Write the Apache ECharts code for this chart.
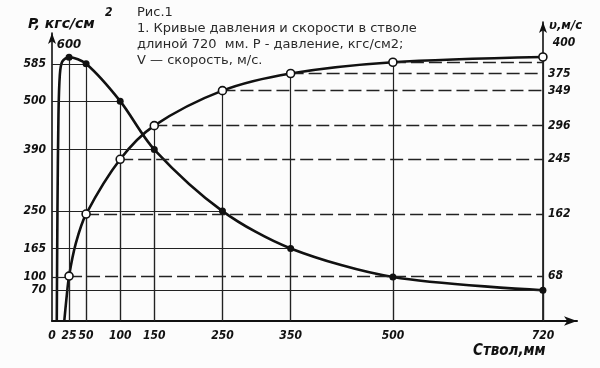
<!DOCTYPE html>
<html><head><meta charset="utf-8">
<script src="https://cdn.jsdelivr.net/npm/echarts@6/dist/echarts.min.js"></script>
<style>html,body{margin:0;padding:0;background:#fcfcfc}#c{width:600px;height:368px}</style>
</head><body><div id="c"></div>
<script>
// ---- data ----
const xTicks   = [25, 50, 100, 150, 250, 350, 500, 720];          // mm along barrel
const xLabels  = [0, 25, 50, 100, 150, 250, 350, 500, 720];
const pressure = [600, 585, 500, 390, 250, 165, 100, 70];        // kgf/cm2 at xTicks
const velocity = [68, 162, 245, 296, 349, 375, 392, 400];        // m/s at xTicks
const pressureLead = [[7, 0], [8, 250], [9.5, 470], [11.5, 560], [15, 590]]; // rise before 25 mm
const velocityLead = [[18, 0], [21, 32]];                         // start of motion
const velocityMid  = [[35, 118]];                                 // between 25 and 50 mm
const pTickLabels = [70, 100, 165, 250, 390, 500, 585];
const vTickLabels = [68, 162, 245, 296, 349, 375, 392];
// solid pressure guides: [value, x where the guide ends]
const pGuides = [[585, 50], [500, 100], [390, 150], [250, 250], [165, 350], [100, 25], [70, 720]];
const xEnd = 720;

const FONT = '"DejaVu Sans Condensed", "DejaVu Sans", sans-serif';
const INK = '#111';
const labelStyle = {fontFamily: FONT, fontStyle: 'italic', fontWeight: 'bold', fontSize: 12, color: INK};

function pair(xs, ys) { return xs.map((x, i) => [x, ys[i]]); }
const pCurve = pressureLead.concat(pair(xTicks, pressure));
const vPts = pair(xTicks, velocity);
const vCurve = velocityLead.concat([vPts[0]], velocityMid, vPts.slice(1));

const solid = {type: 'solid', width: 1.2, color: '#222', opacity: 1};
const dashed = {type: [13, 5], width: 1.3, color: '#222', opacity: 1};

const pGuideLines = pGuides.map(([v, x]) => [{coord: [0, v], lineStyle: solid}, {coord: [x, v]}]);
const pVerticals = xTicks.map((x, i) => [{coord: [x, 0], lineStyle: solid}, {coord: [x, pressure[i]]}]);
const vVerticals = xTicks.map((x, i) => [{coord: [x, 0], lineStyle: solid}, {coord: [x, velocity[i]]}]);
const vGuideLines = xTicks.slice(0, -1).map((x, i) => [{coord: [x, velocity[i]], lineStyle: dashed}, {coord: [xEnd, velocity[i]]}]);

const chart = echarts.init(document.getElementById('c'), null, {renderer: 'canvas'});
const axisArrow = {show: true, onZero: false, symbol: ['none', 'arrow'], symbolSize: [6, 11], lineStyle: {color: INK, width: 1.6}};

chart.setOption({
  backgroundColor: '#fcfcfc',
  animation: false,
  title: {
    text: 'Рис.1\n1. Кривые давления и скорости в стволе\nдлиной 720  мм. Р - давление, кгс/см2;\nV — скорость, м/с.',
    left: 137, top: 5, padding: 0,
    textStyle: {fontFamily: '"DejaVu Sans", sans-serif', fontSize: 13, fontWeight: 'normal', lineHeight: 16, color: '#2a2a2a'}
  },
  grid: [
    {left: 52, right: 23, top: 33, bottom: 47},
    {left: 52, right: 23, top: 22, bottom: 47}
  ],
  xAxis: [
    {type: 'value', gridIndex: 0, min: 0, max: 770,
     axisLine: {show: true, onZero: false, symbol: ['none', 'arrow'], symbolSize: [7, 13], lineStyle: {color: INK, width: 2}},
     axisTick: {show: false}, splitLine: {show: false},
     axisLabel: Object.assign({customValues: xLabels, margin: 9}, labelStyle)},
    {type: 'value', gridIndex: 1, min: 0, max: 770, show: false}
  ],
  yAxis: [
    {type: 'value', gridIndex: 0, min: 0, max: 655, position: 'left',
     axisLine: axisArrow, axisTick: {show: false}, splitLine: {show: false},
     axisLabel: Object.assign({customValues: pTickLabels, margin: 6}, labelStyle)},
    {type: 'value', gridIndex: 1, min: 0, max: 453, position: 'right', offset: -34,
     axisLine: axisArrow, axisTick: {show: false}, splitLine: {show: false},
     axisLabel: Object.assign({customValues: vTickLabels, margin: 5}, labelStyle)}
  ],
  graphic: [
    {type: 'text', left: 28, top: 17, style: {text: 'P, кгс/см', font: 'italic bold 14px "DejaVu Sans", sans-serif', fill: INK}},
    {type: 'text', left: 105, top: 7, style: {text: '2', font: 'italic bold 12px ' + FONT, fill: INK}},
    {type: 'text', left: 549, top: 19, style: {text: 'υ,м/с', font: 'italic bold 13px ' + FONT, fill: INK}},
    {type: 'text', left: 473, top: 344, style: {text: 'Ствол,мм', font: 'italic bold 15px ' + FONT, fill: INK}}
  ],
  series: [
    {type: 'line', xAxisIndex: 0, yAxisIndex: 0, data: pCurve, smooth: 0.3,
     showSymbol: false, lineStyle: {color: INK, width: 2.6}, z: 3, silent: true,
     markLine: {silent: true, symbol: ['none', 'none'], label: {show: false}, animation: false,
       lineStyle: solid, data: pGuideLines.concat(pVerticals)}},
    {type: 'line', xAxisIndex: 1, yAxisIndex: 1, data: vCurve, smooth: 0.3,
     showSymbol: false, lineStyle: {color: INK, width: 2.6}, z: 3, silent: true,
     markLine: {silent: true, symbol: ['none', 'none'], label: {show: false}, animation: false,
       lineStyle: solid, data: vVerticals.concat(vGuideLines)}},
    {type: 'scatter', xAxisIndex: 0, yAxisIndex: 0, z: 5, silent: true,
     symbol: 'circle', symbolSize: 7, itemStyle: {color: INK, opacity: 1},
     data: pair(xTicks, pressure).map((v, i) => i === 0
       ? {value: v, label: {show: true, position: 'top', distance: 3, formatter: p => p.value[1],
           fontFamily: FONT, fontStyle: 'italic', fontWeight: 'bold', fontSize: 13, color: INK}}
       : {value: v})},
    {type: 'scatter', xAxisIndex: 1, yAxisIndex: 1, z: 5, silent: true,
     symbol: 'circle', symbolSize: 8, itemStyle: {color: '#fff', borderColor: INK, borderWidth: 1.6, opacity: 1},
     data: vPts.map((v, i) => i === vPts.length - 1
       ? {value: v, label: {show: true, position: 'right', distance: 5, offset: [0, -14], formatter: p => p.value[1],
           fontFamily: FONT, fontStyle: 'italic', fontWeight: 'bold', fontSize: 12, color: INK}}
       : {value: v})}
  ]
});
</script></body></html>
